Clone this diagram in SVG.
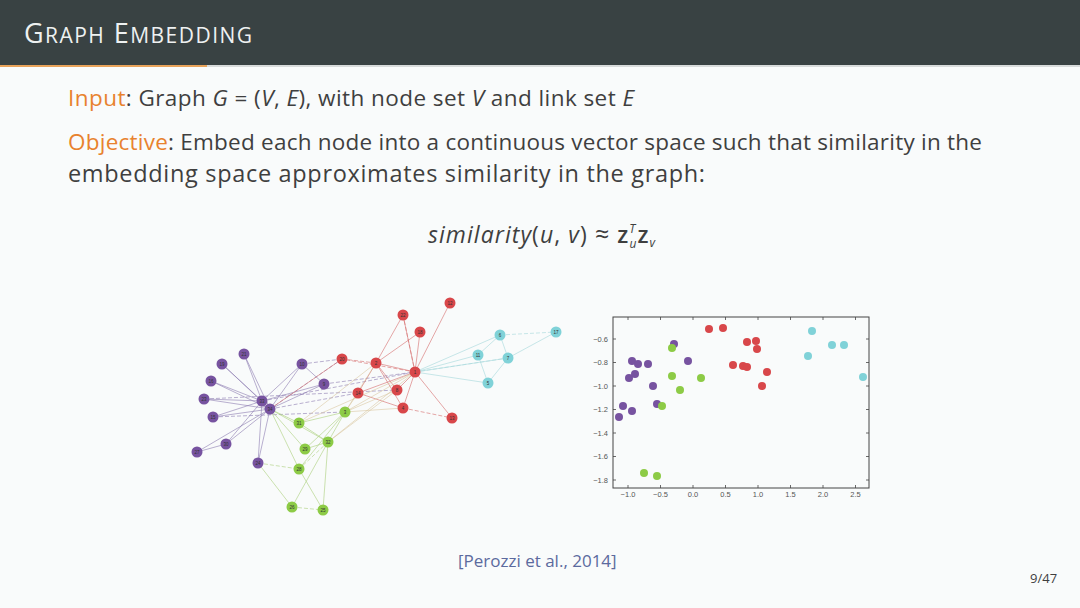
<svg xmlns="http://www.w3.org/2000/svg" width="1080" height="608" viewBox="0 0 1080 608">
<style>
.t{font-family:"Open Sans","Liberation Sans",sans-serif;fill:#3f3f3f}
.or{fill:#e8822e}
.it{font-style:italic}
.e{fill:none;stroke-width:0.8}
.ep{stroke:#8c7bb0;opacity:.75}
.er{stroke:#d56b6b;opacity:.75}
.ec{stroke:#a9d9dd;opacity:.8}
.eg{stroke:#b3d48a;opacity:.85}
.ey{stroke:#d8c39a;opacity:.7}
.d{stroke-dasharray:4 2}
.np{fill:#7753a0}
.nr{fill:#d8474a}
.nc{fill:#80d2d8}
.ng{fill:#8dcb46}
.nl{font-family:"Liberation Sans",sans-serif;font-size:4.5px;fill:#333;text-anchor:middle}
.tk{font-family:"Liberation Sans",sans-serif;font-size:7.5px;fill:#555}
.ax{stroke:#444;stroke-width:1;fill:none}
</style>
<rect x="0" y="0" width="1080" height="608" fill="#f9fbfb"/>
<g id="titlebar">
<rect x="0" y="0" width="1080" height="65" fill="#394243"/>
<rect x="0" y="65" width="1080" height="2" fill="#d8dbdb"/>
<rect x="0" y="65" width="207" height="2" fill="#e8a35a"/>
<text x="24" y="43" font-family="'Open Sans','Liberation Sans',sans-serif" font-size="27" fill="#eef1f1" textLength="228" lengthAdjust="spacing">G<tspan font-size="21">RAPH</tspan> E<tspan font-size="21">MBEDDING</tspan></text>
</g>
<g id="body-text">
<text class="t" x="68" y="106" font-size="22.5" textLength="566" lengthAdjust="spacing"><tspan class="or">Input</tspan>: Graph <tspan class="it">G</tspan> = (<tspan class="it">V</tspan>, <tspan class="it">E</tspan>), with node set <tspan class="it">V</tspan> and link set <tspan class="it">E</tspan></text>
<text class="t" x="68" y="150" font-size="22.5" textLength="914" lengthAdjust="spacing"><tspan class="or">Objective</tspan>: Embed each node into a continuous vector space such that similarity in the</text>
<text class="t" x="68" y="182" font-size="23.5" textLength="637" lengthAdjust="spacing">embedding space approximates similarity in the graph:</text>
<text class="t" x="428" y="243" font-size="23" textLength="227" lengthAdjust="spacing"><tspan class="it">similarity</tspan>(<tspan class="it">u</tspan>, <tspan class="it">v</tspan>) <tspan font-size="25">≈</tspan> <tspan font-weight="600">z</tspan><tspan class="it" font-size="12" dy="-10">T</tspan><tspan class="it" font-size="12" dx="-7" dy="15">u</tspan><tspan font-weight="600" dy="-5">z</tspan><tspan class="it" font-size="12" dy="4">v</tspan></text>
<text class="t" x="458" y="567" font-size="17" style="fill:#5c6a9e">[Perozzi et al., 2014]</text>
<text class="t" x="1030" y="583" font-size="13">9/47</text>
</g>
<g id="connectors">
<path class="e ep" d="M244,354L262,401M244,354L270,409M222,364L262,401M222,364L270,409M211,381L262,401M211,381L270,409M204,399L262,401M204,399L270,409M213,417L262,401M213,417L270,409M226,444L262,401M226,444L270,409M197,452L226,444M197,452L270,409M258,463L270,409M258,463L262,401M302,364L262,401M302,364L270,409M324,384L262,401M324,384L270,409M302,364L324,384M262,401L270,409"/>
<path class="e ep d" d="M262,401L415,372M270,409L342,359M302,364L342,359M324,384L415,372M270,409L358,393M204,399L397,390M213,417L345,412"/>
<path class="e er" d="M415,372L450,303M415,372L403,315M415,372L420,332M415,372L376,363M415,372L397,390M415,372L403,408M415,372L452,418M415,372L358,393M376,363L403,315M376,363L420,332M376,363L358,393M376,363L397,390M376,363L403,408M403,408L358,393M342,359L270,409"/>
<path class="e er d" d="M415,372L342,359M376,363L342,359M403,408L452,418M415,372L403,315"/>
<path class="e ey" d="M415,372L345,412M376,363L345,412M403,408L345,412M397,390L345,412M358,393L345,412M415,372L328,442M415,372L299,423M376,363L299,423M397,390L328,442"/>
<path class="e ec" d="M415,372L500,335M415,372L478,355M415,372L508,358M415,372L488,383M556,332L508,358M500,335L478,355M500,335L508,358M478,355L488,383M508,358L488,383"/>
<path class="e ec d" d="M500,335L556,332M415,372L508,358"/>
<path class="e eg" d="M345,412L328,442M345,412L299,423M345,412L305,449M345,412L299,469M328,442L305,449M328,442L323,510M328,442L292,507M299,469L323,510M299,423L328,442M270,409L305,449M270,409L299,469M270,409L328,442M270,409L299,423M258,463L292,507"/>
<path class="e eg d" d="M292,507L323,510M258,463L299,469M328,442L299,469"/>
</g>
<g id="graph-nodes">
<g id="n21"><circle class="np" cx="244" cy="354" r="5.5"/><text class="nl" x="244" y="355.6">21</text></g>
<g id="n19"><circle class="np" cx="222" cy="364" r="5.5"/><text class="nl" x="222" y="365.6">19</text></g>
<g id="n16"><circle class="np" cx="211" cy="381" r="5.5"/><text class="nl" x="211" y="382.6">16</text></g>
<g id="n23"><circle class="np" cx="204" cy="399" r="5.5"/><text class="nl" x="204" y="400.6">23</text></g>
<g id="n15"><circle class="np" cx="213" cy="417" r="5.5"/><text class="nl" x="213" y="418.6">15</text></g>
<g id="n33"><circle class="np" cx="262" cy="401" r="5.5"/><text class="nl" x="262" y="402.6">33</text></g>
<g id="n34"><circle class="np" cx="270" cy="409" r="5.5"/><text class="nl" x="270" y="410.6">34</text></g>
<g id="n10"><circle class="np" cx="302" cy="364" r="5.5"/><text class="nl" x="302" y="365.6">10</text></g>
<g id="n9"><circle class="np" cx="324" cy="384" r="5.5"/><text class="nl" x="324" y="385.6">9</text></g>
<g id="n30"><circle class="np" cx="226" cy="444" r="5.5"/><text class="nl" x="226" y="445.6">30</text></g>
<g id="n27"><circle class="np" cx="197" cy="452" r="5.5"/><text class="nl" x="197" y="453.6">27</text></g>
<g id="n24"><circle class="np" cx="258" cy="463" r="5.5"/><text class="nl" x="258" y="464.6">24</text></g>
<g id="n20"><circle class="nr" cx="342" cy="359" r="5.5"/><text class="nl" x="342" y="360.6">20</text></g>
<g id="n2"><circle class="nr" cx="376" cy="363" r="5.5"/><text class="nl" x="376" y="364.6">2</text></g>
<g id="n14"><circle class="nr" cx="358" cy="393" r="5.5"/><text class="nl" x="358" y="394.6">14</text></g>
<g id="n12"><circle class="nr" cx="450" cy="303" r="5.5"/><text class="nl" x="450" y="304.6">12</text></g>
<g id="n22"><circle class="nr" cx="403" cy="315" r="5.5"/><text class="nl" x="403" y="316.6">22</text></g>
<g id="n18"><circle class="nr" cx="420" cy="332" r="5.5"/><text class="nl" x="420" y="333.6">18</text></g>
<g id="n1"><circle class="nr" cx="415" cy="372" r="5.5"/><text class="nl" x="415" y="373.6">1</text></g>
<g id="n8"><circle class="nr" cx="397" cy="390" r="5.5"/><text class="nl" x="397" y="391.6">8</text></g>
<g id="n4"><circle class="nr" cx="403" cy="408" r="5.5"/><text class="nl" x="403" y="409.6">4</text></g>
<g id="n13"><circle class="nr" cx="452" cy="418" r="5.5"/><text class="nl" x="452" y="419.6">13</text></g>
<g id="n6"><circle class="nc" cx="500" cy="335" r="5.5"/><text class="nl" x="500" y="336.6">6</text></g>
<g id="n17"><circle class="nc" cx="556" cy="332" r="5.5"/><text class="nl" x="556" y="333.6">17</text></g>
<g id="n11"><circle class="nc" cx="478" cy="355" r="5.5"/><text class="nl" x="478" y="356.6">11</text></g>
<g id="n7"><circle class="nc" cx="508" cy="358" r="5.5"/><text class="nl" x="508" y="359.6">7</text></g>
<g id="n5"><circle class="nc" cx="488" cy="383" r="5.5"/><text class="nl" x="488" y="384.6">5</text></g>
<g id="n3"><circle class="ng" cx="345" cy="412" r="5.5"/><text class="nl" x="345" y="413.6">3</text></g>
<g id="n31"><circle class="ng" cx="299" cy="423" r="5.5"/><text class="nl" x="299" y="424.6">31</text></g>
<g id="n32"><circle class="ng" cx="328" cy="442" r="5.5"/><text class="nl" x="328" y="443.6">32</text></g>
<g id="n29"><circle class="ng" cx="305" cy="449" r="5.5"/><text class="nl" x="305" y="450.6">29</text></g>
<g id="n28"><circle class="ng" cx="299" cy="469" r="5.5"/><text class="nl" x="299" y="470.6">28</text></g>
<g id="n26"><circle class="ng" cx="292" cy="507" r="5.5"/><text class="nl" x="292" y="508.6">26</text></g>
<g id="n25"><circle class="ng" cx="323" cy="510" r="5.5"/><text class="nl" x="323" y="511.6">25</text></g>
</g>
<g id="scatter">
<rect class="ax" x="613" y="317" width="256" height="171" fill="#fbfcfc"/>
<path stroke="#444" stroke-width="0.8" d="M628,488v-3M660.5,488v-3M693,488v-3M725.5,488v-3M758,488v-3M790.5,488v-3M823,488v-3M855.5,488v-3M628,317v3M660.5,317v3M693,317v3M725.5,317v3M758,317v3M790.5,317v3M823,317v3M855.5,317v3M613,339h3M613,362.5h3M613,386h3M613,409.5h3M613,433h3M613,456.5h3M613,480h3M869,339h-3M869,362.5h-3M869,386h-3M869,409.5h-3M869,433h-3M869,456.5h-3M869,480h-3"/>
<g class="tk" text-anchor="end">
<text x="608" y="341.5">−0.6</text><text x="608" y="365">−0.8</text><text x="608" y="388.5">−1.0</text><text x="608" y="412">−1.2</text><text x="608" y="435.5">−1.4</text><text x="608" y="459">−1.6</text><text x="608" y="482.5">−1.8</text>
</g>
<g class="tk" text-anchor="middle">
<text x="628" y="497">−1.0</text><text x="660.5" y="497">−0.5</text><text x="693" y="497">0.0</text><text x="725.5" y="497">0.5</text><text x="758" y="497">1.0</text><text x="790.5" y="497">1.5</text><text x="823" y="497">2.0</text><text x="855.5" y="497">2.5</text>
</g>
<g id="points">
<circle class="np" cx="674" cy="344" r="4"/><circle class="ng" cx="672" cy="348" r="4"/>
<circle class="np" cx="632" cy="361" r="4"/><circle class="np" cx="638" cy="364" r="4"/><circle class="np" cx="648" cy="364" r="4"/><circle class="np" cx="688" cy="361" r="4"/>
<circle class="np" cx="635" cy="374" r="4"/><circle class="np" cx="629" cy="378" r="4"/><circle class="np" cx="653" cy="386" r="4"/>
<circle class="ng" cx="672" cy="376" r="4"/><circle class="ng" cx="701" cy="378" r="4"/><circle class="ng" cx="680" cy="390" r="4"/>
<circle class="np" cx="657" cy="404" r="4"/><circle class="ng" cx="662" cy="406" r="4"/>
<circle class="np" cx="623" cy="406" r="4"/><circle class="np" cx="632" cy="411" r="4"/><circle class="np" cx="619" cy="417" r="4"/>
<circle class="ng" cx="644" cy="473" r="4"/><circle class="ng" cx="657" cy="476" r="4"/>
<circle class="nr" cx="709" cy="329" r="4"/><circle class="nr" cx="723" cy="328" r="4"/><circle class="nr" cx="747" cy="342" r="4"/><circle class="nr" cx="756" cy="341" r="4"/><circle class="nr" cx="757" cy="349" r="4"/>
<circle class="nr" cx="733" cy="365" r="4"/><circle class="nr" cx="743" cy="366" r="4"/><circle class="nr" cx="747" cy="367" r="4"/><circle class="nr" cx="767" cy="372" r="4"/><circle class="nr" cx="762" cy="386" r="4"/>
<circle class="nc" cx="812" cy="331" r="4"/><circle class="nc" cx="832" cy="345" r="4"/><circle class="nc" cx="844" cy="345" r="4"/><circle class="nc" cx="808" cy="356" r="4"/><circle class="nc" cx="863" cy="377" r="4"/>
</g>
</g>
</svg>
